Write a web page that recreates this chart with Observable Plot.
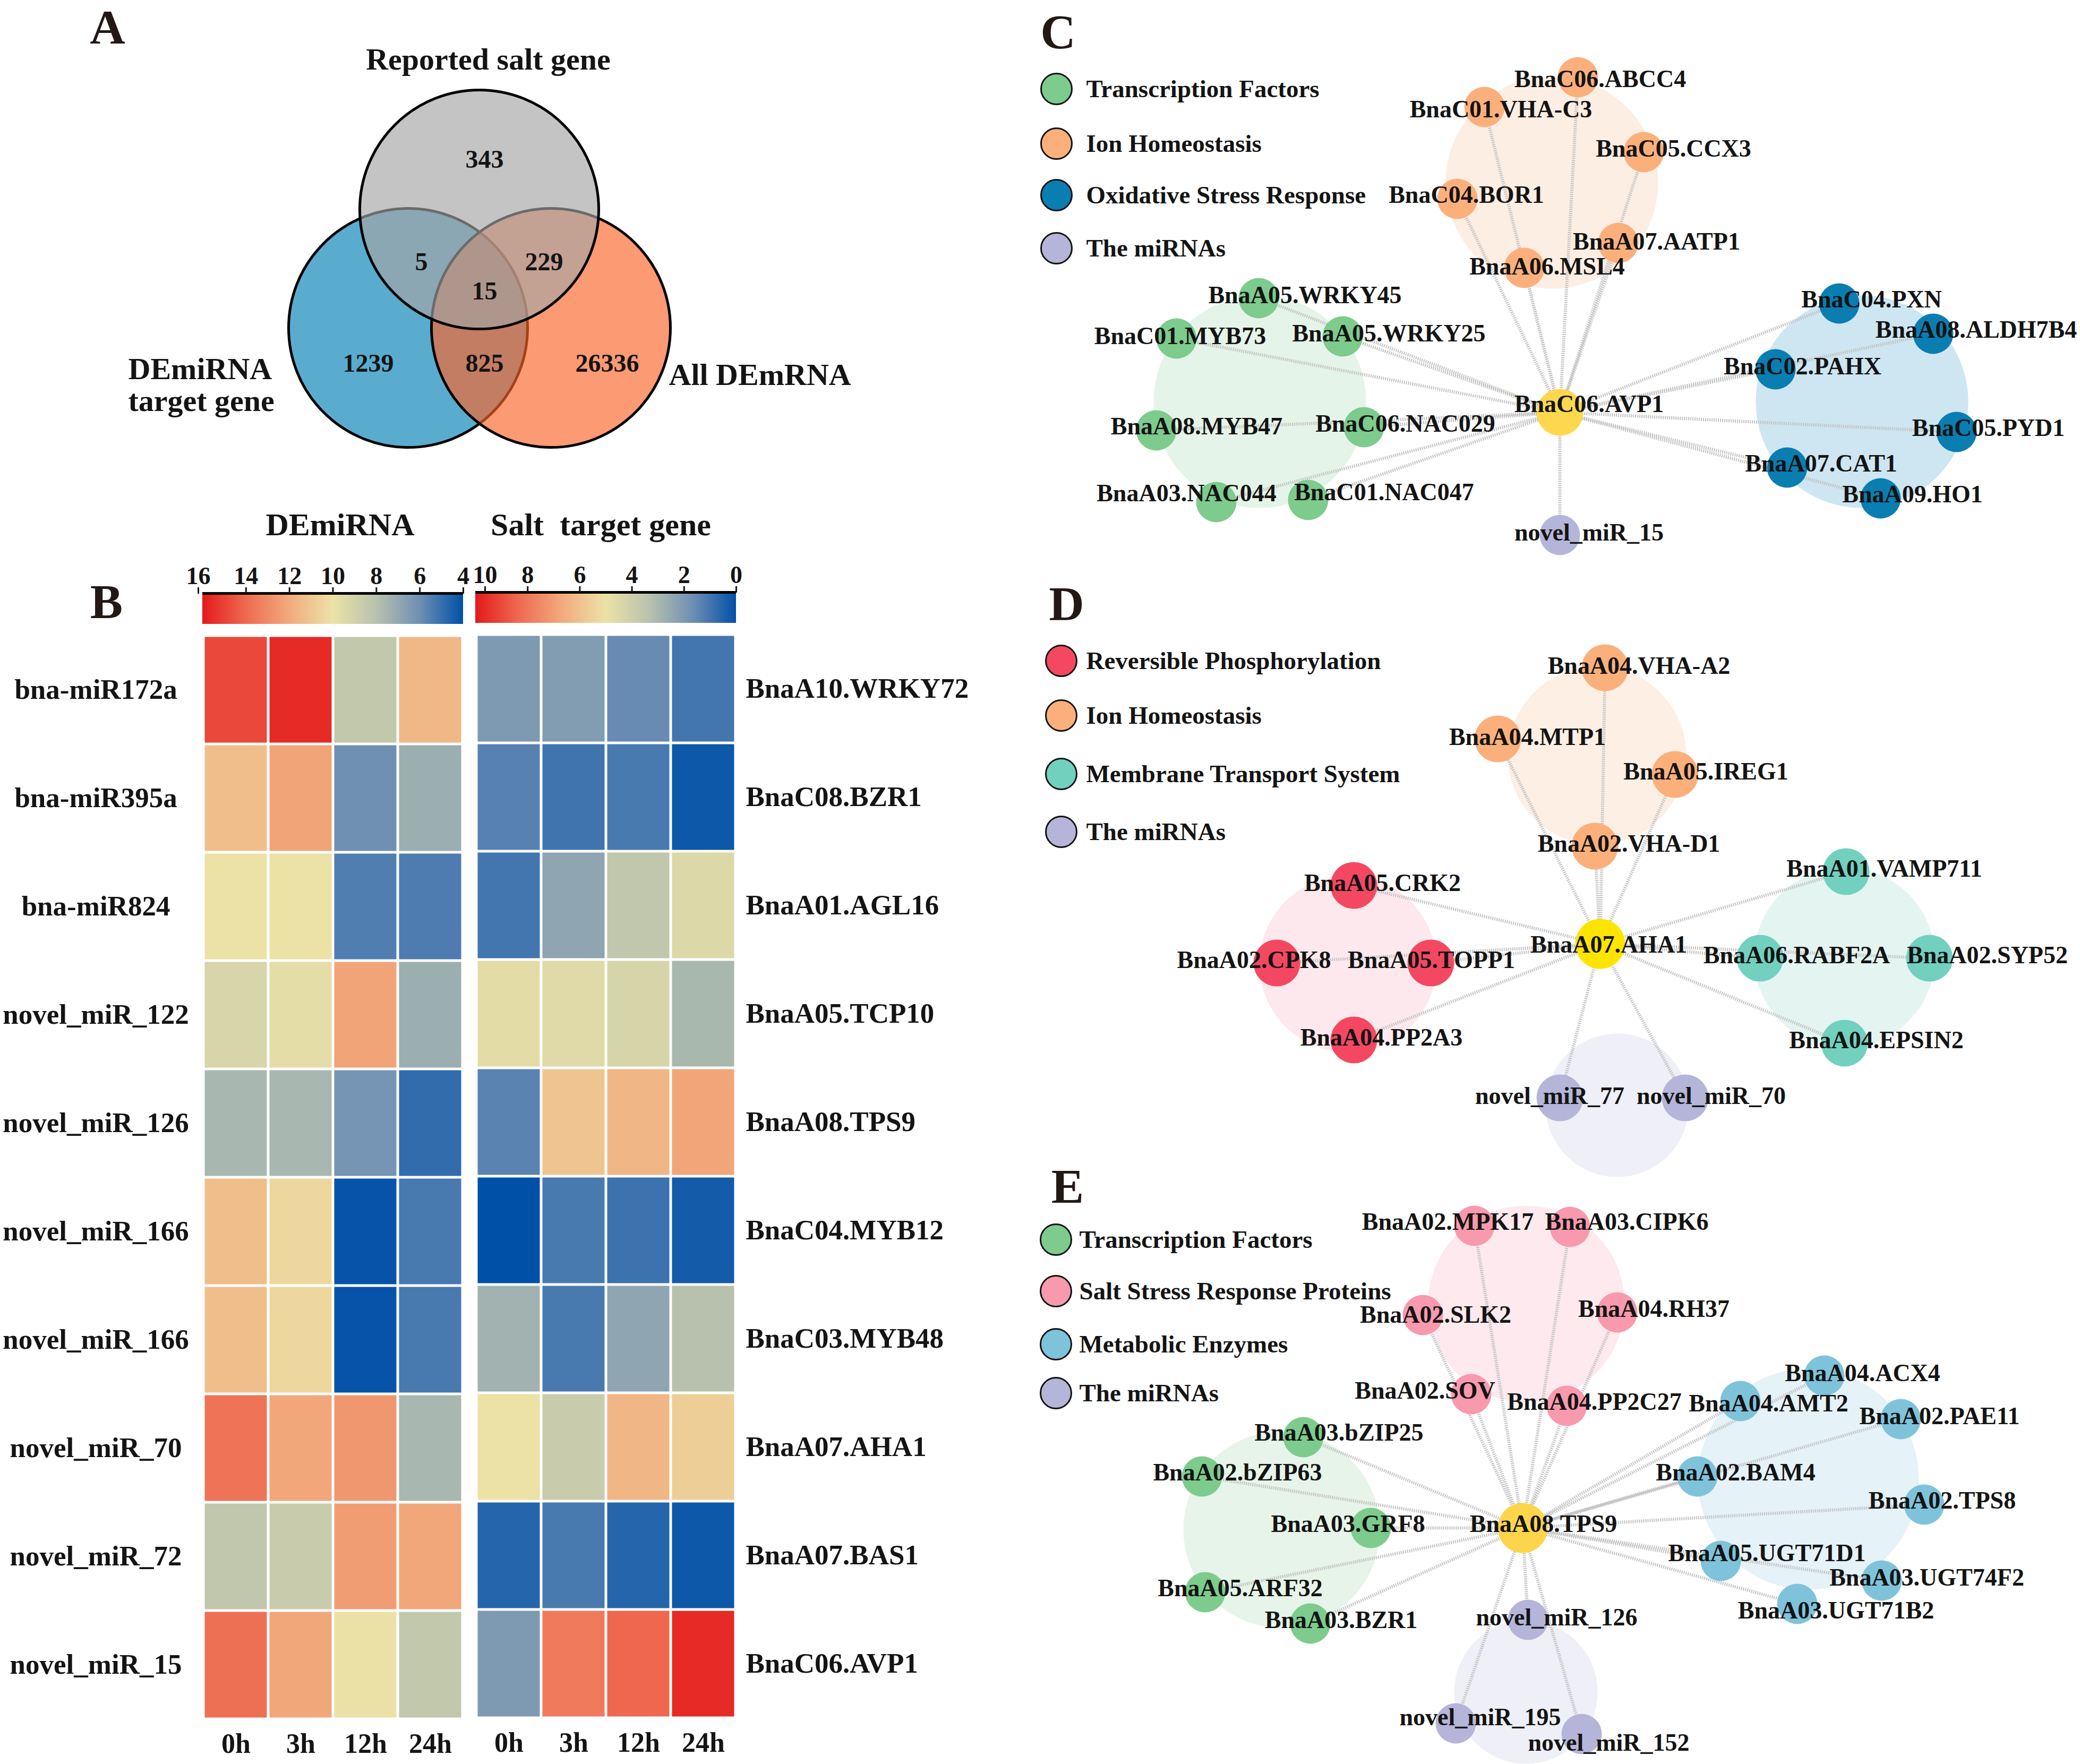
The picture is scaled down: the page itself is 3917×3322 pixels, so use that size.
<!DOCTYPE html>
<html><head><meta charset="utf-8">
<script src="https://cdn.jsdelivr.net/npm/d3@7"></script>
<script src="https://cdn.jsdelivr.net/npm/@observablehq/plot@0.6"></script>
<style>
html,body{margin:0;padding:0;background:#fff;}
#page{position:relative;width:3917px;height:3322px;overflow:hidden;background:#fff;}
#page > svg{position:absolute;margin:0;}
</style></head><body>
<svg width="0" height="0" style="position:absolute"><defs id="grads"></defs></svg>
<div id="page"></div>
<script>
// ---------------- DATA ----------------
// Panel A: Venn
const vennSets = ["DEmiRNA target gene", "All DEmRNA", "Reported salt gene"];
const vennCounts = [343, 5, 229, 15, 1239, 825, 26336];

// Panel B: heatmaps
const times = ["0h", "3h", "12h", "24h"];
const mirnas = ["bna-miR172a","bna-miR395a","bna-miR824","novel_miR_122","novel_miR_126","novel_miR_166","novel_miR_166","novel_miR_70","novel_miR_72","novel_miR_15"];
const targets = ["BnaA10.WRKY72","BnaC08.BZR1","BnaA01.AGL16","BnaA05.TCP10","BnaA08.TPS9","BnaC04.MYB12","BnaC03.MYB48","BnaA07.AHA1","BnaA07.BAS1","BnaC06.AVP1"];
const mirnaExpr = [
  [14.85, 15.6, 8.4, 11.5],
  [11.3, 12.2, 6.0, 7.2],
  [10.0, 10.0, 5.45, 5.4],
  [9.2, 9.7, 12.2, 7.2],
  [7.55, 7.55, 6.2, 4.9],
  [11.3, 10.4, 4.1, 5.3],
  [11.3, 10.4, 4.1, 5.3],
  [13.7, 12.1, 12.6, 7.55],
  [8.3, 8.6, 12.4, 12.1],
  [13.8, 12.1, 9.95, 8.4]
];
const targetExpr = [
  [2.0, 2.1, 1.55, 1.0],
  [1.3, 0.95, 1.1, 0.2],
  [1.0, 2.4, 3.6, 4.5],
  [4.7, 4.6, 4.3, 3.0],
  [1.35, 5.9, 6.3, 6.8],
  [0.0, 1.1, 0.9, 0.3],
  [2.8, 1.1, 2.4, 3.3],
  [5.0, 3.85, 6.3, 5.6],
  [0.55, 1.1, 0.55, 0.2],
  [2.0, 7.9, 8.4, 9.65]
];
const mirnaTicks = [16, 14, 12, 10, 8, 6, 4];
const targetTicks = [10, 8, 6, 4, 2, 0];

// Panels C-E: networks (groups, members, hub)
const hubC = "BnaC06.AVP1";
const groupsC = ["Transcription Factors", "Ion Homeostasis", "Oxidative Stress Response", "The miRNAs"];
const membersC = [
  ["BnaA05.WRKY45","BnaC01.MYB73","BnaA05.WRKY25","BnaA08.MYB47","BnaC06.NAC029","BnaA03.NAC044","BnaC01.NAC047"],
  ["BnaC06.ABCC4","BnaC01.VHA-C3","BnaC05.CCX3","BnaC04.BOR1","BnaA07.AATP1","BnaA06.MSL4"],
  ["BnaC04.PXN","BnaA08.ALDH7B4","BnaC02.PAHX","BnaC05.PYD1","BnaA07.CAT1","BnaA09.HO1"],
  ["novel_miR_15"]
];
const hubD = "BnaA07.AHA1";
const groupsD = ["Reversible Phosphorylation", "Ion Homeostasis", "Membrane Transport System", "The miRNAs"];
const membersD = [
  ["BnaA05.CRK2","BnaA02.CPK8","BnaA05.TOPP1","BnaA04.PP2A3"],
  ["BnaA04.VHA-A2","BnaA04.MTP1","BnaA05.IREG1","BnaA02.VHA-D1"],
  ["BnaA01.VAMP711","BnaA06.RABF2A","BnaA02.SYP52","BnaA04.EPSIN2"],
  ["novel_miR_77","novel_miR_70"]
];
const hubE = "BnaA08.TPS9";
const groupsE = ["Transcription Factors", "Salt Stress Response Proteins", "Metabolic Enzymes", "The miRNAs"];
const membersE = [
  ["BnaA03.bZIP25","BnaA02.bZIP63","BnaA03.GRF8","BnaA05.ARF32","BnaA03.BZR1"],
  ["BnaA02.MPK17","BnaA03.CIPK6","BnaA02.SLK2","BnaA04.RH37","BnaA02.SOV","BnaA04.PP2C27"],
  ["BnaA04.ACX4","BnaA04.AMT2","BnaA02.PAE11","BnaA02.BAM4","BnaA02.TPS8","BnaA05.UGT71D1","BnaA03.UGT74F2","BnaA03.UGT71B2"],
  ["novel_miR_126","novel_miR_195","novel_miR_152"]
];

// ---------------- LAYOUT (page pixels) ----------------
const W = 3917, H = 3322;
const FONT = "'Liberation Serif', 'Times New Roman', serif";
const INK = "#141414";
const vennCircleLayout = [[768, 617], [1037, 617], [902, 394]];
const vennR = 225;
const vennCountLayout = [[912,300],[793,493],[1024,493],[912,548],[693,684],[912,684],[1143,684]];
const vennLabelLayout = [
  {text: "DEmiRNA", x: 241, y: 713, anchor: "start"},
  {text: "target gene", x: 241, y: 773, anchor: "start"},
  {text: "All DEmRNA", x: 1259, y: 724, anchor: "start"},
  {text: "Reported salt gene", x: 919, y: 130, anchor: "middle"}
];
const letterLayout = [["A",202,81],["B",200,1163],["C",1992,90],["D",2008,1167],["E",2010,2264]];
const heatTitleLayout = [["DEmiRNA",640,1007],["Salt\u00a0 target gene",1131,1007]];

// node layout: [x, y, labelX, labelY]
const layoutC = {
  "BnaC06.AVP1":[2937,776,2992,761],
  "BnaC06.ABCC4":[2971,145,3013,149], "BnaC01.VHA-C3":[2795,201,2826,206], "BnaC05.CCX3":[3095,286,3151,280],
  "BnaC04.BOR1":[2744,374,2761,367], "BnaA07.AATP1":[3047,457,3119,455], "BnaA06.MSL4":[2870,504,2913,502],
  "BnaA05.WRKY45":[2370,561,2457,556], "BnaC01.MYB73":[2215,637,2222,633], "BnaA05.WRKY25":[2528,633,2615,628],
  "BnaA08.MYB47":[2177,810,2253,803], "BnaC06.NAC029":[2568,804,2646,798], "BnaA03.NAC044":[2290,945,2234,929],
  "BnaC01.NAC047":[2463,941,2606,927],
  "BnaC04.PXN":[3463,571,3524,564], "BnaA08.ALDH7B4":[3640,628,3721,621], "BnaC02.PAHX":[3343,695,3394,690],
  "BnaC05.PYD1":[3684,813,3744,806], "BnaA07.CAT1":[3365,880,3429,873], "BnaA09.HO1":[3541,938,3601,931],
  "novel_miR_15":[2937,1007,2992,1003]
};
const layoutD = {
  "BnaA07.AHA1":[3013,1777,3029,1779],
  "BnaA04.VHA-A2":[3022,1257,3086,1254], "BnaA04.MTP1":[2820,1391,2876,1388], "BnaA05.IREG1":[3154,1458,3212,1453],
  "BnaA02.VHA-D1":[3003,1593,3067,1589],
  "BnaA05.CRK2":[2549,1667,2603,1663], "BnaA02.CPK8":[2404,1813,2361,1808], "BnaA05.TOPP1":[2694,1813,2695,1808],
  "BnaA04.PP2A3":[2549,1958,2601,1954],
  "BnaA01.VAMP711":[3476,1641,3548,1636], "BnaA06.RABF2A":[3314,1804,3383,1799], "BnaA02.SYP52":[3633,1804,3742,1799],
  "BnaA04.EPSIN2":[3473,1964,3533,1959],
  "novel_miR_77":[2937,2067,2918,2064], "novel_miR_70":[3173,2067,3222,2064]
};
const layoutE = {
  "BnaA08.TPS9":[2867,2877,2906,2870],
  "BnaA02.MPK17":[2776,2308,2726,2301], "BnaA03.CIPK6":[2956,2310,3063,2301], "BnaA02.SLK2":[2679,2476,2703,2476],
  "BnaA04.RH37":[3045,2471,3114,2465], "BnaA02.SOV":[2770,2625,2683,2619], "BnaA04.PP2C27":[2950,2647,3002,2640],
  "BnaA03.bZIP25":[2454,2706,2521,2698], "BnaA02.bZIP63":[2263,2780,2330,2773], "BnaA03.GRF8":[2581,2877,2538,2870],
  "BnaA05.ARF32":[2269,2998,2335,2991], "BnaA03.BZR1":[2467,3057,2525,3051],
  "BnaA04.ACX4":[3435,2590,3507,2586], "BnaA04.AMT2":[3277,2638,3330,2643], "BnaA02.PAE11":[3579,2672,3652,2667],
  "BnaA02.BAM4":[3196,2780,3268,2773], "BnaA02.TPS8":[3623,2833,3657,2826], "BnaA05.UGT71D1":[3240,2939,3327,2925],
  "BnaA03.UGT74F2":[3543,2976,3628,2971], "BnaA03.UGT71B2":[3384,3020,3457,3033],
  "novel_miR_126":[2877,3050,2931,3046], "novel_miR_195":[2741,3245,2787,3234], "novel_miR_152":[2978,3265,3029,3282]
};

// ---------------- STYLES ----------------
const vennFills = ["#017fb5", "#fa6428", "#a4a4a4"];
const heatPalette = ["#e41a1c","#ee6a50","#f2aa7d","#ece2a6","#b8c2ae","#6f8fb3","#0050a8"];

const panels = [
  {hub: hubC, groups: groupsC, members: membersC, layout: layoutC,
   colors: ["#7dcb8d","#fbb07c","#0a7db1","#b5b5d9"], hubColor: "#fdd84e",
   clusters: [[2372,756,200,"#e5f4e8"],[2922,343,200,"#fdeee3"],[3506,756,200,"#cde6f2"],null],
   nodeR: 38, hubR: 44, legend: {x: 1989, tx: 2045, ys: [167,270,367,467]}},
  {hub: hubD, groups: groupsD, members: membersD, layout: layoutD,
   colors: ["#f44862","#fbb07c","#72d0bf","#b5b5d9"], hubColor: "#ffe400",
   clusters: [[2538,1815,167,"#fde9ed"],[3007,1422,168,"#fdefe4"],[3473,1803,170,"#e4f5f1"],[3045,2081,135,"#efeff7"]],
   nodeR: 44, hubR: 47, legend: {x: 1998, tx: 2045, ys: [1244,1347,1457,1566]}},
  {hub: hubE, groups: groupsE, members: membersE, layout: layoutE,
   colors: ["#7dcb8d","#f899ad","#7fc3db","#b5b5d9"], hubColor: "#fdd54a",
   clusters: [[2413,2880,185,"#e6f4e9"],[2874,2455,185,"#fde9ee"],[3405,2785,208,"#e5f2f8"],[2873,3186,135,"#efeff7"]],
   nodeR: 38, hubR: 47, legend: {x: 1988, tx: 2032, ys: [2334,2431,2531,2623]}}
];

// ---------------- MARKS ----------------
function networkMarks(p) {
  const nodes = [];
  p.members.forEach((list, g) => list.forEach(name => nodes.push({name, g, pos: p.layout[name]})));
  const hubNode = {name: p.hub, g: -1, pos: p.layout[p.hub]};
  const bgs = p.clusters.filter(Boolean).map(c => ({x: c[0], y: c[1], r: c[2], fill: c[3]}));
  const legend = p.groups.map((name, g) => ({name, fill: p.colors[g], y: p.legend.ys[g]}));
  return [
    Plot.dot(bgs, {x: "x", y: "y", r: "r", fill: "fill"}),
    Plot.link(nodes, {x1: d => d.pos[0], y1: d => d.pos[1], x2: hubNode.pos[0], y2: hubNode.pos[1],
      stroke: "#c2c2c2", strokeWidth: 6, strokeDasharray: "2,2"}),
    Plot.dot(nodes, {x: d => d.pos[0], y: d => d.pos[1], r: p.nodeR, fill: d => p.colors[d.g]}),
    Plot.dot([hubNode], {x: d => d.pos[0], y: d => d.pos[1], r: p.hubR, fill: p.hubColor}),
    Plot.text([...nodes, hubNode], {x: d => d.pos[2], y: d => d.pos[3], text: "name",
      fontSize: 46, fontWeight: "bold", fontFamily: FONT, fill: INK}),
    Plot.dot(legend, {x: p.legend.x, y: "y", r: 29, fill: "fill", stroke: "#111", strokeWidth: 3}),
    Plot.text(legend, {x: p.legend.tx, y: "y", text: "name", textAnchor: "start",
      fontSize: 47, fontWeight: "bold", fontFamily: FONT, fill: INK})
  ];
}

const vennData = vennSets.map((name, i) => ({name, x: vennCircleLayout[i][0], y: vennCircleLayout[i][1], fill: vennFills[i]}));
const vennCountData = vennCounts.map((c, i) => ({c: String(c), x: vennCountLayout[i][0], y: vennCountLayout[i][1]}));
const textStyle = {fontWeight: "bold", fontFamily: FONT, fill: INK};

const main = Plot.plot({
  width: W, height: H, margin: 0,
  x: {domain: [0, W], range: [0, W], axis: null},
  y: {domain: [0, H], range: [0, H], axis: null},
  r: {type: "linear", domain: [0, 1000], range: [0, 1000]},
  color: {type: "identity"},
  style: {fontFamily: FONT, background: "transparent", color: INK},
  marks: [
    Plot.dot(vennData, {x: "x", y: "y", r: vennR, fill: "fill", fillOpacity: 0.65, stroke: "#000", strokeWidth: 5}),
    Plot.text(vennCountData, {x: "x", y: "y", text: "c", fontSize: 48, ...textStyle}),
    Plot.text(vennLabelLayout.filter(d => d.anchor === "start"), {x: "x", y: "y", text: "text", textAnchor: "start",
      lineAnchor: "bottom", fontSize: 58, ...textStyle}),
    Plot.text(vennLabelLayout.filter(d => d.anchor === "middle"), {x: "x", y: "y", text: "text", textAnchor: "middle",
      lineAnchor: "bottom", fontSize: 58, ...textStyle}),
    ...panels.flatMap(networkMarks),
    Plot.text(heatTitleLayout, {x: d => d[1], y: d => d[2], text: d => d[0], lineAnchor: "bottom", fontSize: 60, ...textStyle}),
    Plot.text(letterLayout, {x: d => d[1], y: d => d[2], text: d => d[0], lineAnchor: "bottom",
      fontSize: 92, fontWeight: "bold", fontFamily: FONT, fill: "#231815"})
  ]
});

// gradients for colour bars
const defs = document.getElementById("grads");
["gradMir", "gradTgt"].forEach(id => {
  const g = document.createElementNS("http://www.w3.org/2000/svg", "linearGradient");
  g.setAttribute("id", id);
  g.setAttribute("x1", "0"); g.setAttribute("x2", "1"); g.setAttribute("y1", "0"); g.setAttribute("y2", "0");
  heatPalette.forEach((c, k) => {
    const s = document.createElementNS("http://www.w3.org/2000/svg", "stop");
    s.setAttribute("offset", (k / (heatPalette.length - 1)).toFixed(4));
    s.setAttribute("stop-color", c);
    g.appendChild(s);
  });
  defs.appendChild(g);
});

const tgtStops = heatPalette.map((c, k) => 10 - 10 * k / (heatPalette.length - 1));

function heatmap(names, values, colorDomain, side) {
  const cells = names.flatMap((n, i) => times.map((t, j) => ({row: i, time: t, value: values[i][j]})));
  const left = side === "left";
  return Plot.plot({
    width: left ? 872 : 491 + 560, height: 2042 + 110,
    marginLeft: left ? 381 : 0, marginRight: left ? 0 : 560, marginTop: 0, marginBottom: 110,
    x: {type: "band", domain: times, padding: 0, axis: null},
    y: {type: "band", domain: d3.range(names.length), padding: 0, axis: null},
    color: {type: "linear", domain: colorDomain, range: heatPalette, interpolate: "rgb"},
    style: {fontFamily: FONT, background: "transparent", color: INK},
    marks: [
      Plot.cell(cells, {x: "time", y: "row", fill: "value", inset: 2.5}),
      left
        ? Plot.axisY({anchor: "left", label: null, tickSize: 0, tickPadding: 0, dx: -201, textAnchor: "middle",
            tickFormat: i => names[i], fontSize: 53, ...textStyle})
        : Plot.axisY({anchor: "right", label: null, tickSize: 0, tickPadding: 18,
            tickFormat: i => names[i], fontSize: 53, ...textStyle}),
      Plot.axisX({anchor: "bottom", label: null, tickSize: 0, tickPadding: 26, fontSize: 52, ...textStyle})
    ]
  });
}

function colorbar(domain, ticks, gradId, firstDx) {
  return Plot.plot({
    width: 491 + 60, height: 60 + 58, marginLeft: 30, marginRight: 30, marginTop: 60, marginBottom: 0,
    x: {type: "linear", domain, axis: null},
    y: {domain: [0, 1], axis: null},
    style: {fontFamily: FONT, background: "transparent", color: INK},
    marks: [
      Plot.rect([0], {x1: domain[0], x2: domain[1], y1: 0, y2: 1, fill: `url(#${gradId})`}),
      Plot.ruleY([1], {stroke: "#000", strokeWidth: 5}),
      Plot.axisX({anchor: "top", label: null, ticks: ticks.slice(1), tickSize: 12, tickPadding: 6, strokeWidth: 3,
        fontSize: 46, ...textStyle}),
      Plot.axisX({anchor: "top", label: null, ticks: ticks.slice(0, 1), tickSize: 12, tickPadding: 6, strokeWidth: 3,
        fontSize: 46, dx: firstDx, ...textStyle})
    ]
  });
}

const page = document.getElementById("page");
function place(el, left, top) {
  el.style.position = "absolute";
  el.style.left = left + "px";
  el.style.top = top + "px";
  el.style.maxWidth = "none";
  el.style.background = "transparent";
  page.appendChild(el);
}
place(main, 0, 0);
place(colorbar([16, 4], mirnaTicks, "gradMir", -8), 351, 1057);
place(colorbar([10, 0], targetTicks, "gradTgt", 18), 865, 1055);
place(heatmap(mirnas, mirnaExpr, mirnaTicks, "left"), 0, 1196);
place(heatmap(targets, targetExpr, tgtStops, "right"), 895, 1194);
</script>
</body></html>
